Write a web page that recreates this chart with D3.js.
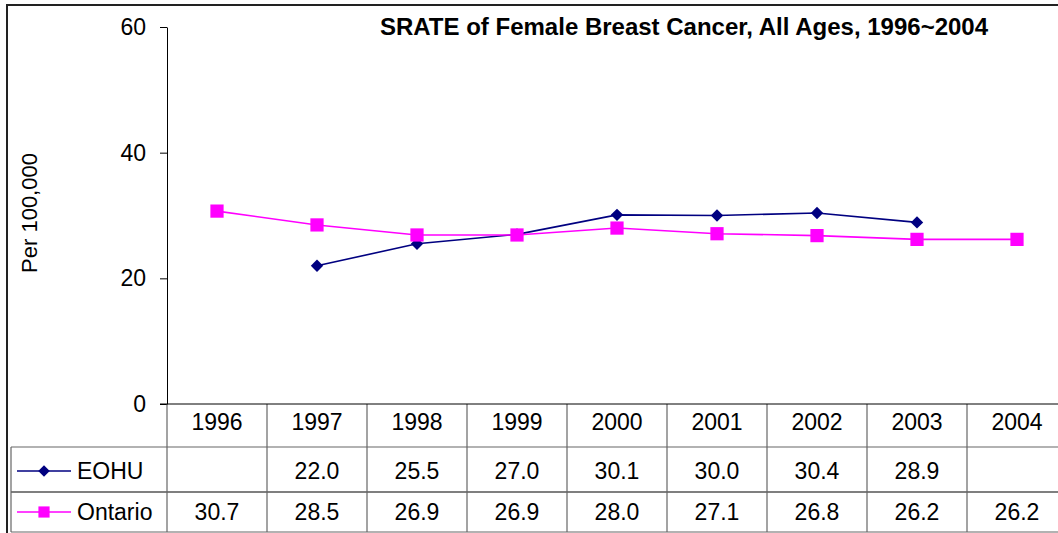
<!DOCTYPE html>
<html>
<head>
<meta charset="utf-8">
<script src="https://cdn.jsdelivr.net/npm/d3@7"></script>
<style>
  body { margin: 0; background: #fff; }
  svg { display: block; font-family: "Liberation Sans", Arial, sans-serif; }
</style>
</head>
<body>
<svg class="chart"></svg>
<script>
const years = ["1996", "1997", "1998", "1999", "2000", "2001", "2002", "2003", "2004"]
const eohu = [null, 22.0, 25.5, 27.0, 30.1, 30.0, 30.4, 28.9, null]
const ontario = [30.7, 28.5, 26.9, 26.9, 28.0, 27.1, 26.8, 26.2, 26.2]
const yTicks = [0, 20, 40, 60]
const seriesNames = ["EOHU", "Ontario"]

const width = 1058, height = 533
// the last column runs past the right edge of the picture
const plot = { left: 167, right: 1067, top: 27, bottom: 404 }
const rows = [404, 447, 492, 532] // table row edges
const fontSize = 23

const chart = d3.select(".chart")
  .attr("width", width)
  .attr("height", height)

// outer frame (right and bottom edges fall outside the picture)
chart.append("path")
  .attr("d", "M7," + height + "V5H" + width)
  .attr("fill", "none")
  .attr("stroke", "#222")
  .attr("stroke-width", 2)

const x = d3.scaleBand().domain(years).range([plot.left, plot.right])
const y = d3.scaleLinear().domain([0, 60]).range([plot.bottom, plot.top])

const yAxis = chart.append("g")
  .attr("transform", "translate(" + plot.left + ",0)")
  .call(d3.axisLeft(y).tickValues(yTicks).tickSize(7).tickSizeOuter(0).tickPadding(14))
yAxis.select(".domain").attr("stroke", "#000")
yAxis.selectAll("text")
  .attr("font-size", fontSize)
  .attr("fill", "#000")
  .attr("font-family", "Liberation Sans, Arial, sans-serif")

chart.append("text")
  .attr("transform", "translate(37,213) rotate(-90)")
  .attr("text-anchor", "middle")
  .attr("font-size", 22)
  .text("Per 100,000")

chart.append("text")
  .attr("x", 684).attr("y", 35)
  .attr("text-anchor", "middle")
  .attr("font-size", 24)
  .attr("font-weight", "bold")
  .text("SRATE of Female Breast Cancer, All Ages, 1996~2004")

// data table
const table = chart.append("g").attr("class", "table")
const tableLeft = 11
const gridColor = "#666"

;[rows[1], rows[2], rows[3]].forEach((ly, i) => {
  table.append("line")
    .attr("x1", tableLeft).attr("x2", width)
    .attr("y1", ly).attr("y2", ly)
    .attr("stroke", i === 1 ? "#000" : gridColor)
    .attr("stroke-width", 1.2)
})
table.append("line")
  .attr("x1", tableLeft).attr("x2", tableLeft)
  .attr("y1", rows[1]).attr("y2", rows[3])
  .attr("stroke", gridColor)
  .attr("stroke-width", 1.2)

years.slice(0, -1).forEach(yr => {
  table.append("line")
    .attr("x1", x(yr) + x.bandwidth()).attr("x2", x(yr) + x.bandwidth())
    .attr("y1", rows[0]).attr("y2", rows[3])
    .attr("stroke", gridColor)
    .attr("stroke-width", 1.2)
})
table.append("line")
  .attr("x1", plot.left).attr("x2", plot.left)
  .attr("y1", rows[0]).attr("y2", rows[3])
  .attr("stroke", gridColor)
  .attr("stroke-width", 1.2)

// x axis line
chart.append("line")
  .attr("x1", plot.left - 7).attr("x2", width)
  .attr("y1", plot.bottom).attr("y2", plot.bottom)
  .attr("stroke", "#000")

table.selectAll(".yr")
  .data(years)
  .enter()
  .append("text")
    .attr("class", "yr")
    .attr("x", d => x(d) + x.bandwidth() / 2)
    .attr("y", 422)
    .attr("dy", "0.36em")
    .attr("text-anchor", "middle")
    .attr("font-size", fontSize)
    .text(d => d)

const series = [
  { name: seriesNames[0], values: eohu, color: "#000080", marker: d3.symbolDiamond2, size: 98, keySize: 85, rowY: 471 },
  { name: seriesNames[1], values: ontario, color: "#ff00ff", marker: d3.symbolSquare, size: 175, keySize: 125, rowY: 512 }
]

const line = d3.line()
  .defined(d => d.v != null)
  .x(d => x(d.yr) + x.bandwidth() / 2)
  .y(d => y(d.v))

series.forEach((s, i) => {
  const pts = years.map((yr, j) => ({ yr: yr, v: s.values[j] }))

  chart.append("path")
    .datum(pts)
    .attr("fill", "none")
    .attr("stroke", s.color)
    .attr("stroke-width", 1.6)
    .attr("d", line)

  chart.selectAll(".pt" + i)
    .data(pts.filter(d => d.v != null))
    .enter()
    .append("path")
      .attr("d", d3.symbol(s.marker, s.size))
      .attr("fill", s.color)
      .attr("transform", d => "translate(" + (x(d.yr) + x.bandwidth() / 2) + "," + y(d.v) + ")")

  // legend key
  table.append("line")
    .attr("x1", 17).attr("x2", 71)
    .attr("y1", s.rowY).attr("y2", s.rowY)
    .attr("stroke", s.color).attr("stroke-width", 1.6)
  table.append("path")
    .attr("d", d3.symbol(s.marker, s.keySize))
    .attr("fill", s.color)
    .attr("transform", "translate(44," + s.rowY + ")")
  table.append("text")
    .attr("x", 77).attr("y", s.rowY)
    .attr("dy", "0.36em")
    .attr("font-size", fontSize)
    .text(s.name)

  table.selectAll(".val" + i)
    .data(pts.filter(d => d.v != null))
    .enter()
    .append("text")
      .attr("x", d => x(d.yr) + x.bandwidth() / 2)
      .attr("y", s.rowY)
      .attr("dy", "0.36em")
      .attr("text-anchor", "middle")
      .attr("font-size", fontSize)
      .text(d => d3.format(".1f")(d.v))
})
</script>
</body>
</html>
